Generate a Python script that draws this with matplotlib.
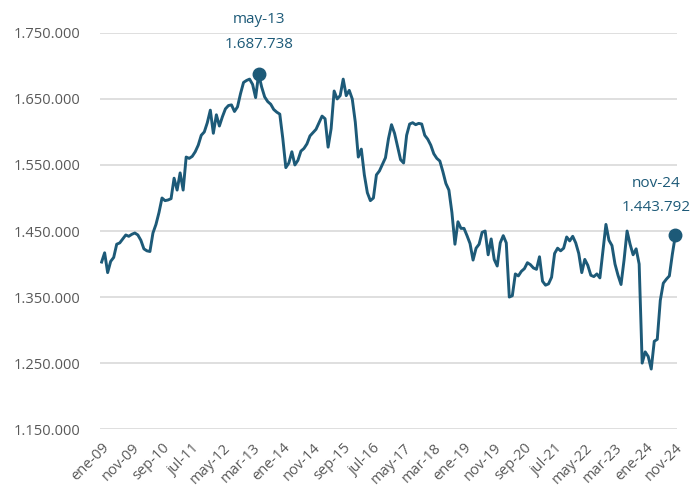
import matplotlib.pyplot as plt

# monthly series, ene-09 .. nov-24
values = [
    1403000, 1417000, 1387000, 1404000, 1410000, 1430000, 1432000, 1438000, 1444000, 1442000,
    1445000, 1447000, 1444000, 1436000, 1423000, 1420000, 1419000, 1447000, 1460000, 1478000,
    1500000, 1496000, 1497000, 1499000, 1530000, 1512000, 1538000, 1512000, 1562000, 1560000,
    1563000, 1570000, 1580000, 1595000, 1600000, 1614000, 1633000, 1598000, 1626000, 1609000,
    1623000, 1635000, 1640000, 1641000, 1631000, 1638000, 1658000, 1675000, 1678000, 1680000,
    1672000, 1652000, 1687738, 1668000, 1653000, 1646000, 1642000, 1634000, 1630000, 1627000,
    1590000, 1546000, 1553000, 1570000, 1550000, 1557000, 1571000, 1575000, 1582000, 1594000,
    1599000, 1604000, 1614000, 1624000, 1620000, 1577000, 1605000, 1662000, 1650000, 1655000,
    1680000, 1655000, 1663000, 1650000, 1615000, 1562000, 1574000, 1535000, 1508000, 1496000,
    1500000, 1535000, 1541000, 1551000, 1561000, 1590000, 1611000, 1598000, 1578000, 1558000,
    1553000, 1595000, 1612000, 1614000, 1611000, 1613000, 1612000, 1595000, 1589000, 1580000,
    1567000, 1560000, 1556000, 1540000, 1522000, 1512000, 1478000, 1430000, 1464000, 1454000,
    1454000, 1443000, 1431000, 1406000, 1424000, 1430000, 1448000, 1450000, 1414000, 1438000,
    1407000, 1397000, 1432000, 1443000, 1432000, 1350000, 1352000, 1385000, 1382000, 1389000,
    1393000, 1402000, 1399000, 1394000, 1392000, 1411000, 1374000, 1368000, 1370000, 1380000,
    1416000, 1424000, 1420000, 1424000, 1441000, 1435000, 1442000, 1432000, 1416000, 1387000,
    1407000, 1398000, 1383000, 1381000, 1385000, 1379000, 1419000, 1460000, 1436000, 1428000,
    1400000, 1383000, 1369000, 1406000, 1450000, 1430000, 1414000, 1423000, 1400000, 1250000,
    1267000, 1260000, 1241000, 1283000, 1286000, 1345000, 1371000, 1377000, 1382000, 1415000,
    1443792,
]

months = ["ene", "feb", "mar", "abr", "may", "jun", "jul", "ago", "sep", "oct", "nov", "dic"]
labels = [f"{months[i % 12]}-{9 + i // 12:02d}" for i in range(len(values))]
highlights = [52, 190]

y_ticks = [1150000, 1250000, 1350000, 1450000, 1550000, 1650000, 1750000]

line_color = "#1d5a78"
text_gray = "#595959"

def fmt(v):
    return f"{v:,.0f}".replace(",", ".")

plt.rcParams['font.family'] = ['Open Sans', 'DejaVu Sans']

fig = plt.figure(figsize=(7, 4.91), dpi=100)
ax = fig.add_axes([0.143, 0.126, 0.824, 0.807])

x = list(range(len(values)))
ax.plot(x, values, color=line_color, linewidth=2.1, solid_joinstyle="round", zorder=3)

for i in highlights:
    ax.plot(i, values[i], "o", color=line_color, markersize=9, zorder=4, clip_on=False)

# peak label
ax.annotate(labels[52], (52, values[52]), xytext=(0, 39), textcoords="offset points",
            ha="center", va="center", fontsize=11, color=line_color)
ax.annotate(fmt(values[52]), (52, values[52]), xytext=(0, 21), textcoords="offset points",
            ha="center", va="center", fontsize=11, color=line_color)
# last label
ax.annotate(labels[190], (190, values[190]), xytext=(-14, 37), textcoords="offset points",
            ha="center", va="center", fontsize=11, color=line_color)
ax.annotate(fmt(values[190]), (190, values[190]), xytext=(-14, 20), textcoords="offset points",
            ha="center", va="center", fontsize=11, color=line_color)

ax.set_ylim(1150000, 1750000)
ax.set_xlim(-0.5, 190.5)
ax.set_yticks(y_ticks)
ax.set_yticklabels([fmt(v) for v in y_ticks], fontsize=10.5, color=text_gray)

ticks = list(range(0, len(values), 10))
ax.set_xticks(ticks)
ax.set_xticklabels([labels[i] for i in ticks], rotation=45, ha="right",
                   rotation_mode="anchor", fontsize=10.5, color=text_gray)

ax.grid(axis="y", color="#d9d9d9", linewidth=1.2)
ax.set_axisbelow(True)
for s in ax.spines.values():
    s.set_visible(False)
ax.tick_params(axis="both", length=0)
ax.tick_params(axis="y", pad=14)
ax.tick_params(axis="x", pad=8)

fig.savefig("out.png", dpi=100)
